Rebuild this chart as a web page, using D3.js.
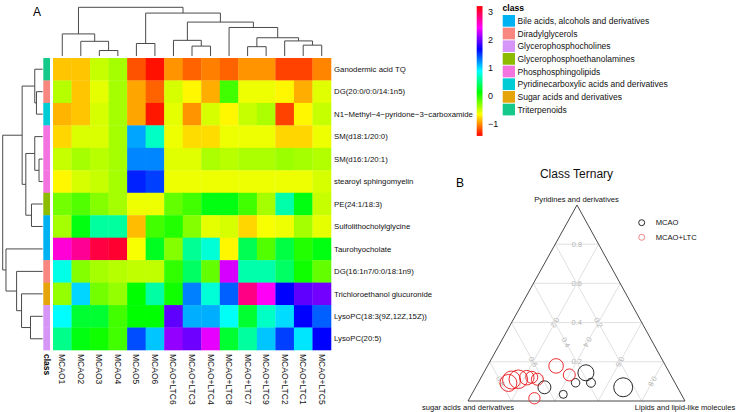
<!DOCTYPE html>
<html>
<head>
<meta charset="utf-8">
<script src="https://cdn.jsdelivr.net/npm/d3@7"></script>
<style>
body { margin: 0; background: #fff; }
text { font-family: "Liberation Sans", Arial, sans-serif; }
</style>
</head>
<body>
<script>

// heatmap data (row z-scores)
var rowNames = ['Ganodermic acid TQ', 'DG(20:0/0:0/14:1n5)', 'N1\u2212Methyl\u22124\u2212pyridone\u22123\u2212carboxamide',
  'SM(d18:1/20:0)', 'SM(d16:1/20:1)', 'stearoyl sphingomyelin', 'PE(24:1/18:3)', 'Sulfolithocholylglycine',
  'Taurohyocholate', 'DG(16:1n7/0:0/18:1n9)', 'Trichloroethanol glucuronide', 'LysoPC(18:3(9Z,12Z,15Z))', 'LysoPC(20:5)'];

var colNames = ['MCAO1', 'MCAO2', 'MCAO3', 'MCAO4', 'MCAO5', 'MCAO6', 'MCAO+LTC6', 'MCAO+LTC3', 'MCAO+LTC4',
  'MCAO+LTC8', 'MCAO+LTC7', 'MCAO+LTC9', 'MCAO+LTC2', 'MCAO+LTC1', 'MCAO+LTC5'];

var values = [
  [-0.85, -0.85, -0.5, -0.4, -1.2, -1.4, -1.0, -1.15, -1.06, -1.15, -1.0, -1.0, -1.25, -1.25, -1.05],
  [-0.45, -0.85, -0.6, -0.4, -0.95, -1.15, -0.55, -0.7, -0.92, -0.1, -0.62, -0.62, -0.7, -0.92, -0.58],
  [-0.9, -0.85, -0.55, -0.4, -0.95, -1.38, -0.6, -1.0, -0.55, -0.7, -0.5, -0.42, -1.25, -0.7, -0.5],
  [-0.8, -0.56, -0.56, -0.4, 1.15, 0.7, -0.62, -0.78, -0.78, -0.62, -0.62, -0.62, -0.8, -0.8, -0.62],
  [-0.5, -0.4, -0.46, -0.4, 1.24, 1.24, -0.58, -0.58, -0.42, -0.46, -0.42, -0.42, -0.37, -0.4, -0.44],
  [-0.7, -0.55, -0.5, -0.4, 1.55, 1.46, -0.62, -0.62, -0.62, -0.62, -0.62, -0.62, -0.62, -0.62, -0.55],
  [-0.25, -0.15, -0.3, -0.4, -0.62, -0.62, -0.2, -0.1, 0.15, 0.15, -0.1, -0.4, 0.62, 0.15, -0.5],
  [-0.4, 0.15, 0.58, 0.58, -0.88, -0.1, 0.0, -0.3, -0.6, -0.55, -0.8, -0.65, -0.62, -0.4, -0.6],
  [2.55, 2.75, 3.0, 3.05, -0.65, 0.2, -0.3, 0.55, 0.75, -0.7, 0.35, -0.15, 0.3, 0.0, 0.15],
  [0.8, -0.3, -0.4, -0.45, -0.48, -0.48, -0.05, 0.4, -0.2, 2.3, 0.62, 0.62, 0.4, 0.05, -0.2],
  [-0.35, 1.0, -0.25, -0.35, 0.1, 0.6, 0.05, 1.26, 0.75, 1.36, 2.8, 2.45, 1.65, 1.94, 2.0],
  [0.88, 0.25, 0.25, -0.1, 0.1, 0.1, 1.94, 1.12, 1.12, 0.85, 0.25, 0.7, 0.98, 1.65, 1.36],
  [0.52, 0.15, 0.05, -0.1, 1.42, 1.05, 2.1, 1.98, 2.35, 0.25, 0.58, 1.05, 1.46, 0.95, 1.65]
];

var classNames = ['Bile acids, alcohols and derivatives', 'Diradylglycerols', 'Glycerophosphocholines',
  'Glycerophosphoethanolamines', 'Phosphosphingolipids', 'Pyridinecarboxylic acids and derivatives',
  'Sugar acids and derivatives', 'Triterpenoids'];
var classColors = ['#00B2F2', '#F8877F', '#D696F7', '#8DBB00', '#F374E0', '#00CCD6', '#E5A50A', '#14C98A'];
var rowClass = [7, 1, 5, 4, 4, 4, 3, 0, 0, 1, 6, 2, 2];

// dendrograms: [height, left, right], leaves are indices
var colTree = [50.7, [23, 0, [15.3, 1, [5.7, 2, 3]]],
  [44.7, [13, 4, 5], [35.3, [16.3, 6, [10.3, 7, 8]], [29.7, 9, [19, [9.7, 10, 11], [15.7, 12, [11.3, 13, 14]]]]]]];
var rowTree = [40.3, [20.7, [8, 0, [6.3, 1, 2]], [17, [8, 3, [3.7, 4, 5]], [11.3, 6, 7]]],
  [37, 8, [26.3, 9, [21.3, 10, [12.3, 11, 12]]]]];

var legendTicks = [3, 2, 1, 0, -1];
var vmin = -1.45, vmax = 3.2;

// ternary data: fractions of pyridines (top) and lipids (right), rest = sugar acids
var ternGroups = ['MCAO', 'MCAO+LTC'];
var mcaoPts = [
  {pyr: 0.07, lip: 0.317, size: 42}, {pyr: 0.034, lip: 0.422, size: 16}, {pyr: 0.093, lip: 0.449, size: 18},
  {pyr: 0.144, lip: 0.471, size: 64}, {pyr: 0.093, lip: 0.52, size: 20}, {pyr: 0.07, lip: 0.68, size: 90}
];
var ltcPts = [
  {pyr: 0.107, lip: 0.147, size: 81}, {pyr: 0.111, lip: 0.176, size: 86}, {pyr: 0.119, lip: 0.211, size: 53},
  {pyr: 0.121, lip: 0.233, size: 36}, {pyr: 0.111, lip: 0.264, size: 36}, {pyr: 0.014, lip: 0.299, size: 32},
  {pyr: 0.179, lip: 0.316, size: 53}, {pyr: 0.133, lip: 0.4, size: 36}, {pyr: 0.092, lip: 0.14, size: 72}
];
var gridVals = [0.2, 0.4, 0.6, 0.8];

var svg = d3.select('body').append('svg').attr('width', 743).attr('height', 412);

// ---------- heatmap ----------
var x = d3.scaleBand().domain(d3.range(colNames.length)).range([53, 331]);
var y = d3.scaleBand().domain(d3.range(rowNames.length)).range([58, 350]);
var stops = d3.range(7).map(function(i) { return vmin + i * (vmax - vmin) / 6; });
var color = d3.scaleLinear().domain(stops)
  .range(['#ff0000', '#ffff00', '#00ff00', '#00ffff', '#0000ff', '#ff00ff', '#ff0000']);

var cells = [];
values.forEach(function(row, i) { row.forEach(function(v, j) { cells.push({r: i, c: j, v: v}); }); });

svg.append('g').selectAll('rect').data(cells).enter().append('rect')
  .attr('x', function(d) { return x(d.c); })
  .attr('y', function(d) { return y(d.r); })
  .attr('width', x.bandwidth() + 0.3)
  .attr('height', y.bandwidth() + 0.3)
  .attr('fill', function(d) { return color(d.v); });

// class strip
svg.append('g').selectAll('rect').data(rowClass).enter().append('rect')
  .attr('x', 43.3).attr('width', 6.7)
  .attr('y', function(d, i) { return y(i); })
  .attr('height', y.bandwidth() + 0.3)
  .attr('fill', function(d) { return classColors[d]; });

svg.append('g').selectAll('text').data(rowNames).enter().append('text')
  .attr('x', 334)
  .attr('y', function(d, i) { return y(i) + y.bandwidth() / 2; })
  .attr('dy', '0.35em')
  .attr('font-size', 7.8)
  .attr('fill', '#111')
  .text(function(d) { return d; });

svg.append('g').selectAll('text').data(colNames).enter().append('text')
  .attr('transform', function(d, i) { return 'translate(' + (x(i) + x.bandwidth() / 2) + ',354) rotate(90)'; })
  .attr('dy', '0.35em')
  .attr('font-size', 8.5)
  .attr('fill', '#111')
  .text(function(d) { return d; });

svg.append('text')
  .attr('transform', 'translate(46.7,354) rotate(90)')
  .attr('dy', '0.35em')
  .attr('font-size', 8.5)
  .attr('font-weight', 'bold')
  .text('class');

// dendrograms
var colH = d3.scaleLinear().domain([0, colTree[0]]).range([56, 7.3]);
var rowH = d3.scaleLinear().domain([0, rowTree[0]]).range([42.7, 2.7]);
var dendroPaths = [];

function walk(node, leafPos, hScale, vertical) {
  if (typeof node === 'number') return {p: leafPos(node), h: hScale(0)};
  var a = walk(node[1], leafPos, hScale, vertical);
  var b = walk(node[2], leafPos, hScale, vertical);
  var hp = hScale(node[0]);
  if (vertical) {
    dendroPaths.push('M' + a.p + ',' + a.h + 'V' + hp + 'H' + b.p + 'V' + b.h);
  } else {
    dendroPaths.push('M' + a.h + ',' + a.p + 'H' + hp + 'V' + b.p + 'H' + b.h);
  }
  return {p: (a.p + b.p) / 2, h: hp};
}
walk(colTree, function(i) { return x(i) + x.bandwidth() / 2; }, colH, true);
walk(rowTree, function(i) { return y(i) + y.bandwidth() / 2; }, rowH, false);

svg.append('g').selectAll('path').data(dendroPaths).enter().append('path')
  .attr('d', function(d) { return d; })
  .attr('fill', 'none')
  .attr('stroke', '#4a4a4a')
  .attr('stroke-width', 1);

// colour bar
var cbY = d3.scaleLinear().domain([vmin, vmax]).range([135.9, 6.1]);
var grad = svg.append('defs').append('linearGradient').attr('id', 'cb')
  .attr('x1', 0).attr('y1', 1).attr('x2', 0).attr('y2', 0);
grad.selectAll('stop').data(stops).enter().append('stop')
  .attr('offset', function(d, i) { return i / 6; })
  .attr('stop-color', function(d) { return color(d); });
svg.append('rect').attr('x', 476.7).attr('y', cbY(vmax)).attr('width', 5.8)
  .attr('height', cbY(vmin) - cbY(vmax)).attr('fill', 'url(#cb)');

var cbAxis = svg.append('g').attr('transform', 'translate(485,0)')
  .call(d3.axisRight(cbY).tickValues(legendTicks).tickSize(0).tickPadding(3)
    .tickFormat(function(d) { return d < 0 ? '\u2212' + Math.abs(d) : d; }));
cbAxis.select('.domain').remove();
cbAxis.selectAll('text').attr('font-size', 9).attr('fill', '#111')
  .style('font-family', '"Liberation Sans", Arial, sans-serif');

// class legend
svg.append('text').attr('x', 502.5).attr('y', 11).attr('font-size', 8.6)
  .attr('font-weight', 'bold').text('class');
var leg = svg.append('g').selectAll('g').data(classNames).enter().append('g')
  .attr('transform', function(d, i) { return 'translate(502.7,' + (15 + i * 12.67) + ')'; });
leg.append('rect').attr('width', 12.3).attr('height', 11.7)
  .attr('fill', function(d, i) { return classColors[i]; });
leg.append('text').attr('x', 14.8).attr('y', 6).attr('dy', '0.35em')
  .attr('font-size', 8.5).attr('fill', '#111').text(function(d) { return d; });

svg.append('text').attr('x', 33).attr('y', 15.5).attr('font-size', 12).text('A');
svg.append('text').attr('x', 456).attr('y', 187).attr('font-size', 12).text('B');

// ---------- ternary ----------
var PL = [468, 401], PT = [577, 205], PR = [685, 401];
function tern(pyr, lip) {
  var sug = 1 - pyr - lip;
  return [sug * PL[0] + pyr * PT[0] + lip * PR[0], sug * PL[1] + pyr * PT[1] + lip * PR[1]];
}

var tg = svg.append('g');
var gridLines = [];
gridVals.forEach(function(v) {
  gridLines.push({a: tern(v, 0), b: tern(v, 1 - v), v: v, kind: 'T'});
  gridLines.push({a: tern(1 - v, 0), b: tern(0, 1 - v), v: v, kind: 'L'});
  gridLines.push({a: tern(1 - v, v), b: tern(0, v), v: v, kind: 'R'});
});
tg.selectAll('line.grid').data(gridLines).enter().append('line')
  .attr('x1', function(d) { return d.a[0]; }).attr('y1', function(d) { return d.a[1]; })
  .attr('x2', function(d) { return d.b[0]; }).attr('y2', function(d) { return d.b[1]; })
  .attr('stroke', '#dcdcdc').attr('stroke-width', 0.9);

tg.selectAll('text.gl').data(gridLines).enter().append('text')
  .attr('transform', function(d) {
    var mx = (d.a[0] + d.b[0]) / 2, my = (d.a[1] + d.b[1]) / 2;
    var ang = d.kind === 'T' ? 0 : (d.kind === 'L' ? 61 : 119);
    return 'translate(' + mx + ',' + my + ') rotate(' + ang + ')';
  })
  .attr('text-anchor', 'middle').attr('dy', '0.35em')
  .attr('font-size', 7.5).attr('fill', '#b5b5b5')
  .text(function(d) { return d.v.toFixed(1); });

tg.append('path')
  .attr('d', 'M' + PL + 'L' + PT + 'L' + PR + 'Z')
  .attr('fill', 'none').attr('stroke', '#333').attr('stroke-width', 0.9);

var rScale = d3.scaleSqrt().domain([0, 100]).range([0, 10]);
tg.selectAll('circle.m').data(mcaoPts).enter().append('circle')
  .attr('cx', function(d) { return tern(d.pyr, d.lip)[0]; })
  .attr('cy', function(d) { return tern(d.pyr, d.lip)[1]; })
  .attr('r', function(d) { return rScale(d.size); })
  .attr('fill', 'none').attr('stroke', '#111').attr('stroke-width', 0.9);
tg.selectAll('circle.l').data(ltcPts).enter().append('circle')
  .attr('cx', function(d) { return tern(d.pyr, d.lip)[0]; })
  .attr('cy', function(d) { return tern(d.pyr, d.lip)[1]; })
  .attr('r', function(d) { return rScale(d.size); })
  .attr('fill', 'none').attr('stroke', '#e8161b').attr('stroke-width', 0.9);

tg.append('text').attr('x', 576.5).attr('y', 177.5).attr('text-anchor', 'middle')
  .attr('font-size', 12).attr('fill', '#111').text('Class Ternary');
tg.append('text').attr('x', 576.5).attr('y', 201.5).attr('text-anchor', 'middle')
  .attr('font-size', 7.6).attr('fill', '#111').text('Pyridines and derivatives');
tg.append('text').attr('x', 468).attr('y', 410).attr('text-anchor', 'middle')
  .attr('font-size', 7.6).attr('fill', '#111').text('sugar acids and derivatives');
tg.append('text').attr('x', 685).attr('y', 410).attr('text-anchor', 'middle')
  .attr('font-size', 7.6).attr('fill', '#111').text('Lipids and lipid-like molecules');

var tl = tg.selectAll('g.tl').data(ternGroups).enter().append('g')
  .attr('transform', function(d, i) { return 'translate(641.7,' + (222.7 + i * 14.6) + ')'; });
tl.append('circle').attr('r', 3).attr('fill', 'none')
  .attr('stroke', function(d, i) { return i ? '#e8767a' : '#111'; }).attr('stroke-width', 0.9);
tl.append('text').attr('x', 14).attr('dy', '0.35em').attr('font-size', 7.6).attr('fill', '#111')
  .text(function(d) { return d; });

</script>
</body>
</html>
